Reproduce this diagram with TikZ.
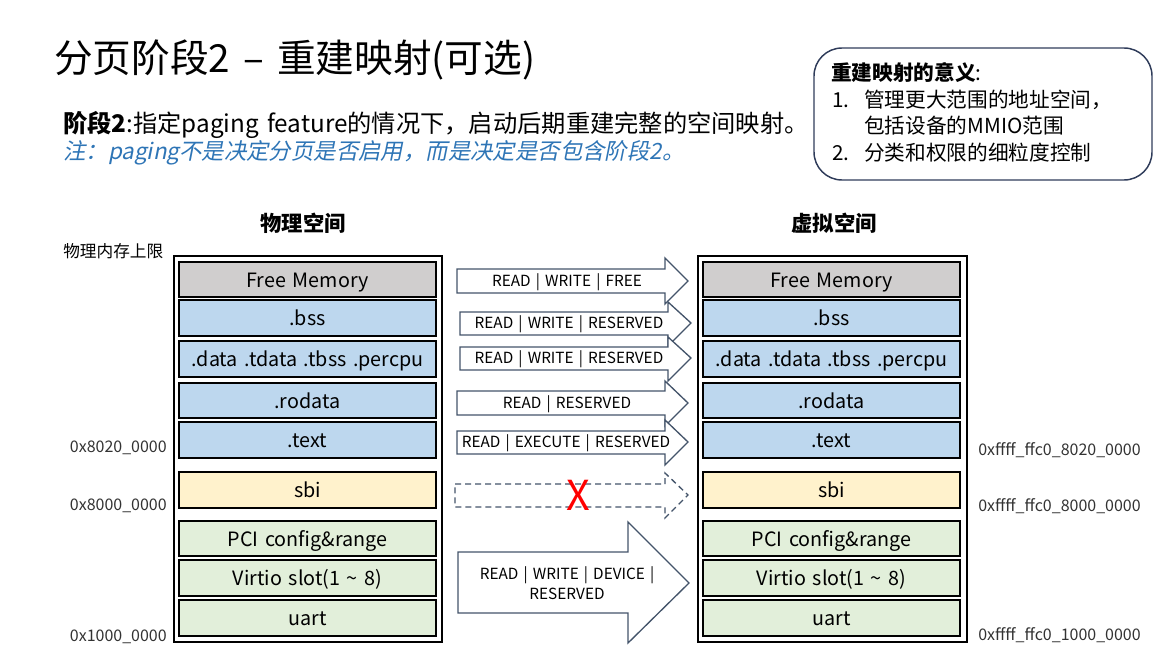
\documentclass[tikz,border=0pt]{standalone}
\usepackage{fontspec}
\setmainfont[WordSpace=1.5]{Noto Sans CJK SC}
\newfontfamily\itcjk[FakeSlant=0.2]{Noto Sans CJK SC}
\definecolor{memgray}{HTML}{D0CECE}
\definecolor{memblue}{HTML}{BDD7EE}
\definecolor{memyellow}{HTML}{FFF2CC}
\definecolor{memgreen}{HTML}{E2EFDA}
\definecolor{arrowline}{HTML}{44546A}
\definecolor{noteblue}{HTML}{2E75B6}
\definecolor{boxline}{HTML}{2F3C5A}
\definecolor{addrtext}{HTML}{333333}
\tikzset{
  memcell/.style={draw=black, line width=0.8pt, inner sep=0pt, text height=11.5pt, text depth=0pt, font=\fontsize{14.8}{18}\selectfont},
  outerbox/.style={draw=black, line width=2.2pt, inner sep=0pt},
  blockarr/.style={draw=arrowline, fill=white, line width=1pt, line join=miter},
  arrlabel/.style={font=\fontsize{11.5}{15}\selectfont, inner sep=0pt, text=black},
  addr/.style={font=\fontsize{12}{14}\selectfont, inner sep=0pt, text=addrtext},
  header/.style={font=\bfseries\fontsize{16}{19}\selectfont, inner sep=0pt},
  boxtext/.style={font=\fontsize{15.5}{19}\selectfont, inner sep=0pt, anchor=west}
}
% name, x1, x2, y1, y2, style, text
\newcommand\cellbox[7]{\node[#6, minimum width={(#3-#2)*0.75pt}, minimum height={(#5-#4)*0.75pt}] (#1) at ({(#2+#3)/2},{(#4+#5)/2}) {#7};}
% style, x1, xbase, xtip, ytop, ybot, headtop, headbot, ytip
\newcommand\blockarrow[9]{\draw[#1] (#2,#5) -- (#3,#5) -- (#3,#7) -- (#4,#9) -- (#3,#8) -- (#3,#6) -- (#2,#6) -- cycle;}
\begin{document}
\begin{tikzpicture}[x=0.75pt,y=-0.75pt]
\useasboundingbox (0,0) rectangle (1174,660);
% title and intro
\node[anchor=west, inner sep=0pt, font=\fontsize{29}{34}\selectfont] (title) at (54,60) {分页阶段2 – 重建映射(可选)};
\node[anchor=west, inner sep=0pt, font=\fontsize{18.2}{21}\selectfont] (intro) at (63,125) {\textbf{阶段2}:指定paging feature的情况下，启动后期重建完整的空间映射。};
\node[anchor=west, inner sep=0pt, font=\itcjk\fontsize{16.8}{20}\selectfont, text=noteblue] (note) at (63,153) {注：paging不是决定分页是否启用，而是决定是否包含阶段2。};
% meaning box
\draw[draw=boxline, line width=1.1pt, rounded corners=21pt] (814,48) rectangle (1152,180);
\node[boxtext] (m0) at (831,73) {\textbf{重建映射的意义}:};
\node[boxtext] (m1n) at (832,100) {1.};
\node[boxtext] (m1) at (864,100) {管理更大范围的地址空间，};
\node[boxtext] (m1b) at (864,126) {包括设备的MMIO范围};
\node[boxtext] (m2n) at (832,153) {2.};
\node[boxtext] (m2) at (864,153) {分类和权限的细粒度控制};
% headers
\node[header] (phys) at (303,223) {物理空间};
\node[header] (virt) at (834,223) {虚拟空间};
\node[anchor=west, inner sep=0pt, font=\fontsize{12.5}{15}\selectfont] (limit) at (63,251) {物理内存上限};
% outer boxes
\cellbox{pout}{174}{442}{256}{642}{outerbox}{}
\cellbox{vout}{698}{967}{256}{642}{outerbox}{}
% physical cells
\cellbox{pfree}{179}{436}{262}{297}{memcell,fill=memgray}{Free Memory}
\cellbox{pbss}{179}{436}{300}{336}{memcell,fill=memblue}{.bss}
\cellbox{pdata}{179}{436}{341}{377}{memcell,fill=memblue}{.data .tdata .tbss .percpu}
\cellbox{prodata}{179}{436}{383}{418}{memcell,fill=memblue}{.rodata}
\cellbox{ptext}{179}{436}{422}{458}{memcell,fill=memblue}{.text}
\cellbox{psbi}{179}{436}{472}{508}{memcell,fill=memyellow}{sbi}
\cellbox{ppci}{179}{436}{521}{556}{memcell,fill=memgreen}{PCI config\&range}
\cellbox{pvirtio}{179}{436}{560}{596}{memcell,fill=memgreen}{Virtio slot(1 \textasciitilde{} 8)}
\cellbox{puart}{179}{436}{600}{636}{memcell,fill=memgreen}{uart}
% virtual cells
\cellbox{vfree}{703}{960}{262}{297}{memcell,fill=memgray}{Free Memory}
\cellbox{vbss}{703}{960}{300}{336}{memcell,fill=memblue}{.bss}
\cellbox{vdata}{703}{960}{341}{377}{memcell,fill=memblue}{.data .tdata .tbss .percpu}
\cellbox{vrodata}{703}{960}{383}{418}{memcell,fill=memblue}{.rodata}
\cellbox{vtext}{703}{960}{422}{458}{memcell,fill=memblue}{.text}
\cellbox{vsbi}{703}{960}{472}{508}{memcell,fill=memyellow}{sbi}
\cellbox{vpci}{703}{960}{521}{556}{memcell,fill=memgreen}{PCI config\&range}
\cellbox{vvirtio}{703}{960}{560}{596}{memcell,fill=memgreen}{Virtio slot(1 \textasciitilde{} 8)}
\cellbox{vuart}{703}{960}{600}{636}{memcell,fill=memgreen}{uart}
% address labels
\node[addr, anchor=east] (a1) at (167,448) {0x8020\_0000};
\node[addr, anchor=east] (a2) at (167,506) {0x8000\_0000};
\node[addr, anchor=east] (a3) at (167,637) {0x1000\_0000};
\node[addr, anchor=west] (b1) at (978,450) {0xffff\_ffc0\_8020\_0000};
\node[addr, anchor=west] (b2) at (978,506) {0xffff\_ffc0\_8000\_0000};
\node[addr, anchor=west] (b3) at (978,635) {0xffff\_ffc0\_1000\_0000};
% block arrows
\blockarrow{blockarr}{457}{665}{688}{269}{293}{258}{304}{281}
\node[arrlabel] (l1) at (567,282) {READ | WRITE | FREE};
\blockarrow{blockarr}{460}{668}{691}{312}{335}{302}{346}{323}
\node[arrlabel] (l2) at (569,324) {READ | WRITE | RESERVED};
\blockarrow{blockarr}{460}{668}{691}{347}{370}{337}{381}{358}
\node[arrlabel] (l3) at (569,359) {READ | WRITE | RESERVED};
\blockarrow{blockarr}{457}{665}{688}{391}{415}{381}{426}{403}
\node[arrlabel] (l4) at (567,404) {READ | RESERVED};
\blockarrow{blockarr}{457}{665}{688}{431}{454}{420}{465}{442}
\node[arrlabel] (l5) at (566,443) {READ | EXECUTE | RESERVED};
\blockarrow{blockarr,dash pattern=on 4.5pt off 3pt}{455}{665}{688}{484}{507}{473}{518}{495}
\node[inner sep=0pt, text=red, font=\fontsize{31}{34}\selectfont] (cross) at (578,495) {X};
\blockarrow{blockarr}{458}{628}{689}{552}{613}{522}{643}{583}
\node[arrlabel, align=center, font=\fontsize{11.5}{15}\selectfont] (l6) at (567,583) {READ | WRITE | DEVICE |\\RESERVED};
\end{tikzpicture}
\end{document}
